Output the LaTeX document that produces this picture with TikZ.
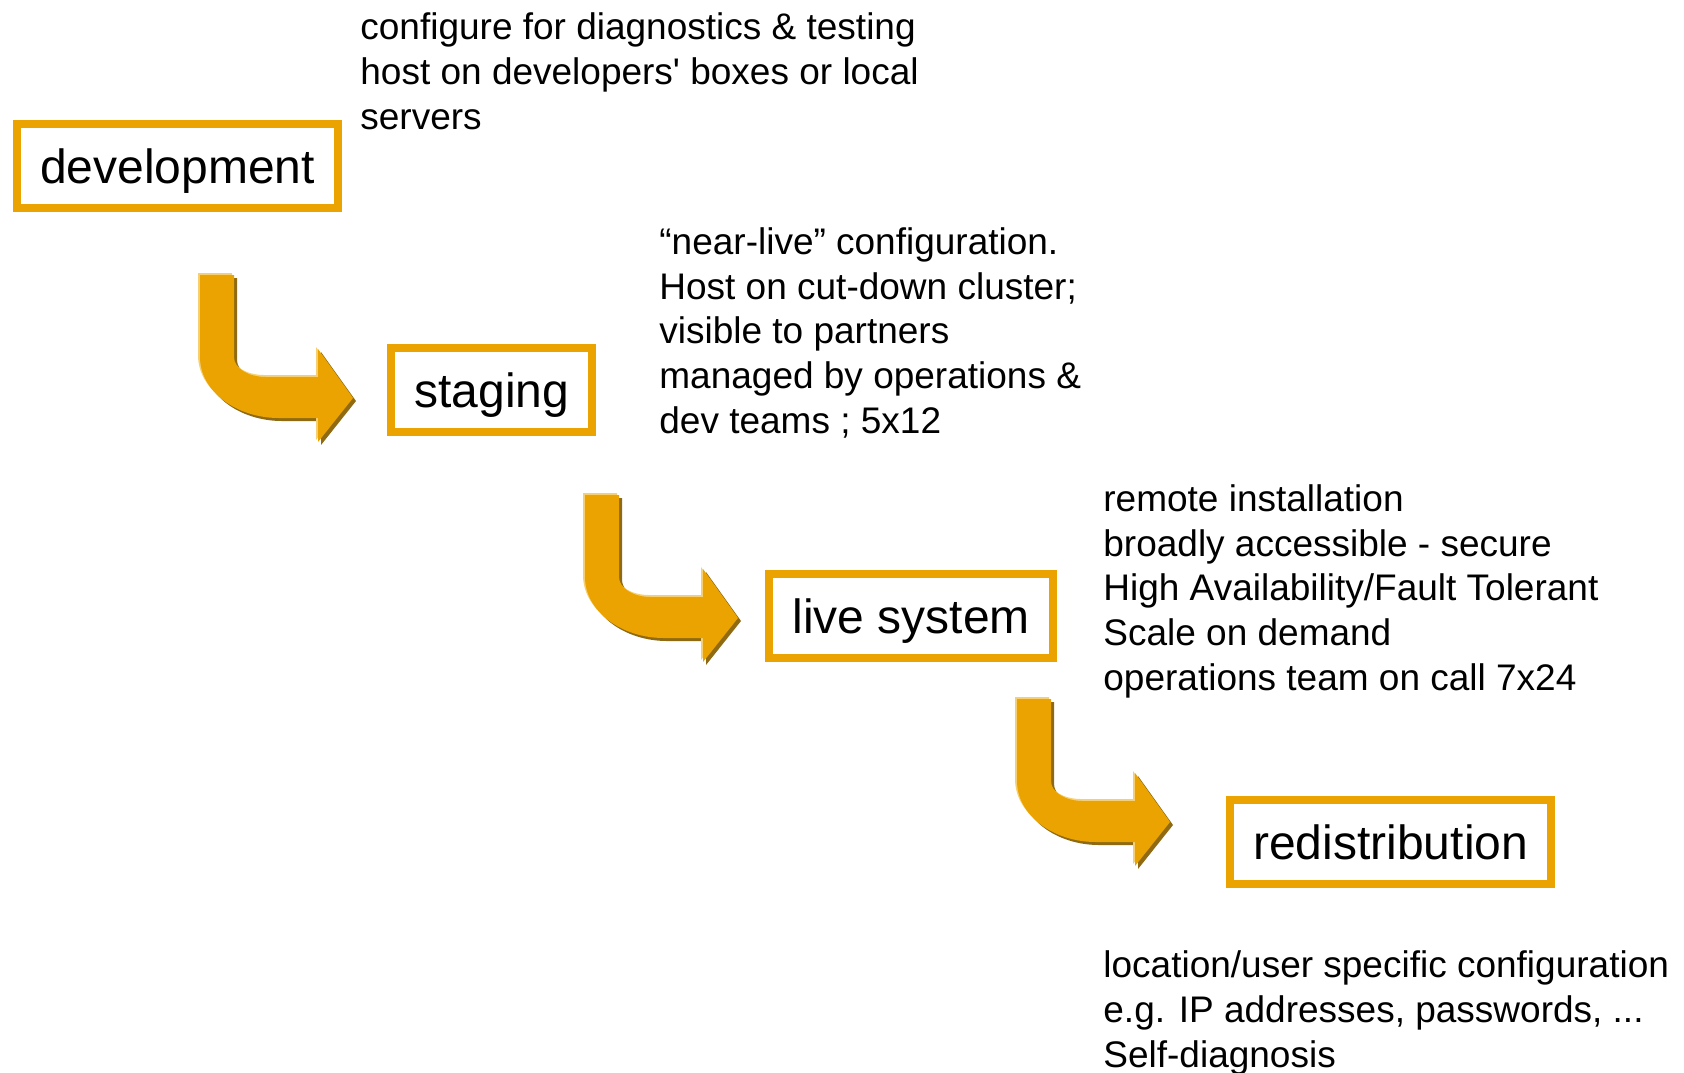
\documentclass[tikz,border=0pt]{standalone}
\usepackage{fontspec}
\setmainfont{Liberation Sans}[Ligatures=TeXOff]
\usetikzlibrary{positioning}

\definecolor{stagegold}{HTML}{EAA300}
\definecolor{stageshade}{HTML}{8F6A12}
\definecolor{stagelight}{HTML}{F5CF72}

\begin{document}
\begin{tikzpicture}[
    x = 0.5pt, % one pixel of the slide
    y = -0.5pt, % y runs downwards
    node distance = 67pt and 84.5pt, % gap between the stage boxes
    ]

    \tikzset{stagebox/.style={
    draw = stagegold,
    line width = 4pt,
    font = \fontsize{24}{29}\selectfont,
    inner xsep = 11.6pt,
    inner ysep = 12.5pt,
    text height = 17pt,
    text depth = 0pt
    }}
    % notes hang on the baseline of their last line
    \tikzset{note/.style={
    anchor = base west,
    align = left,
    inner sep = 0pt,
    font = \fontsize{18.5}{22.3}\selectfont
    }}
    \tikzset{bentarrow/.pic={
    % shadow, highlight, then the arrow itself
    \foreach \off/\col in {3/stageshade, -2/stagelight, 0/stagegold}
    \fill[\col, shift={(\off,\off)}] (0,0) -- (34,0) -- (34,82)
        .. controls (34,93) and (48,102) .. (66,102) -- (118,102)
        -- (118,74) -- (153,123) -- (118,167) -- (118,143) -- (79,143)
        .. controls (36,143) and (0,116) .. (0,82) -- cycle;
    }}

    \useasboundingbox (0,0) rectangle (1684,1072);

    \node[stagebox] (dev) at (177.5,166) {development};
    \node[stagebox] (staging) [below right=66pt and 22.5pt of dev] {staging};
    \node[stagebox] (live) [below right=of staging] {live system};
    \node[stagebox] (redist) [below right=of live] {redistribution};

    \pic at (200,275) {bentarrow};
    \pic at (585,495) {bentarrow};
    \pic at (1017,699) {bentarrow};

    \node[note] (devnote) at (360,129) {configure for diagnostics \& testing\\host on developers' boxes or local\\servers};
    \node[note] (stagingnote) at (659,433) {“near-live” configuration.\\Host on cut-down cluster;\\visible to partners\\managed by operations \&\\dev teams ; 5x12};
    \node[note] (livenote) at (1103,690) {remote installation\\broadly accessible - secure\\High Availability/Fault Tolerant\\Scale on demand\\operations team on call 7x24};
    \node[note] (redistnote) at (1103,1067) {location/user specific configuration\\e.g. IP addresses, passwords, ...\\Self-diagnosis};
\end{tikzpicture}
\end{document}
